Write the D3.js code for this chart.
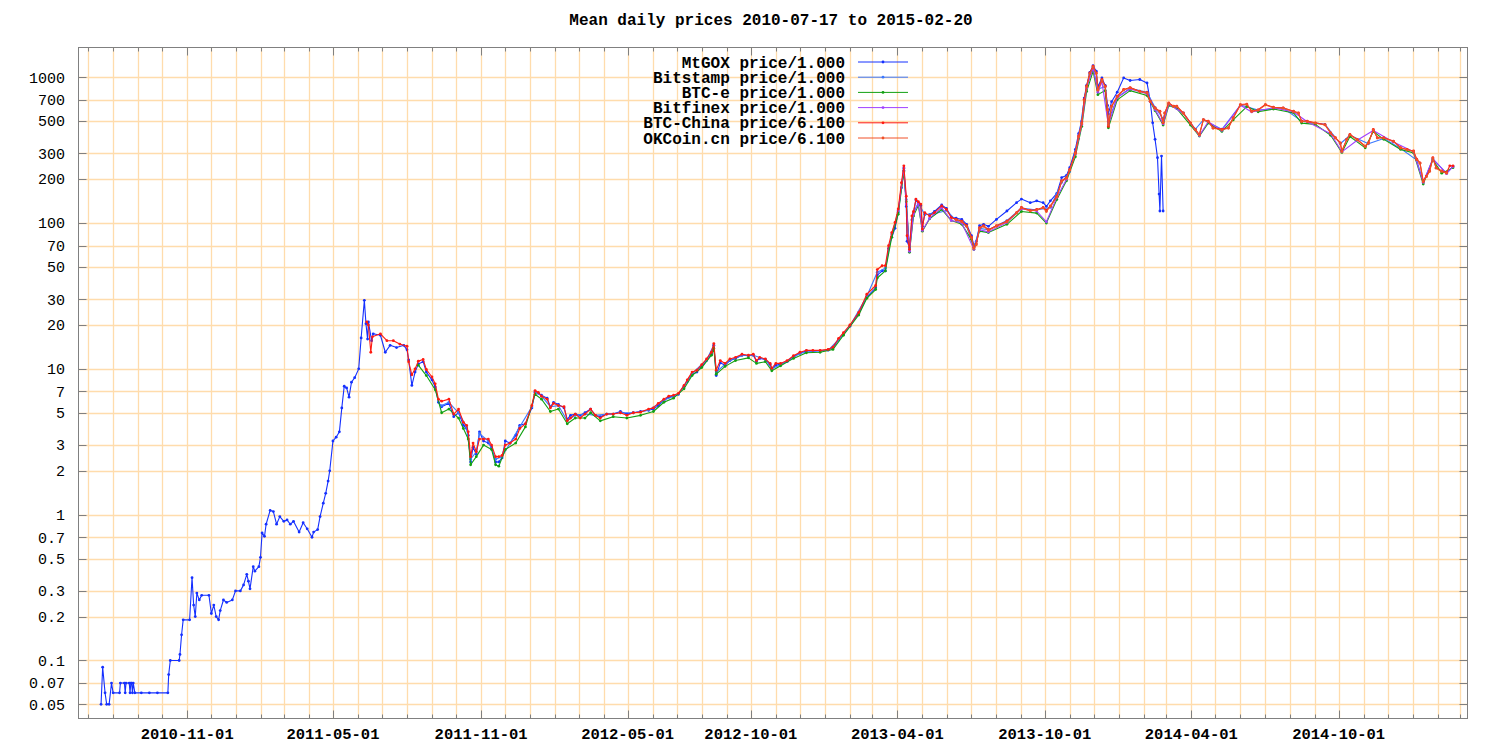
<!DOCTYPE html>
<html><head><meta charset="utf-8">
<script src="https://cdn.jsdelivr.net/npm/d3@7"></script>
<style>body{margin:0;background:#fff}svg{display:block}</style>
</head><body>
<svg id="c" width="1500" height="750"></svg>
<script>
const titleText = "Mean daily prices 2010-07-17 to 2015-02-20";
const seriesLabels = ["MtGOX price/1.000","Bitstamp price/1.000","BTC-e price/1.000","Bitfinex price/1.000","BTC-China price/6.100","OKCoin.cn price/6.100"];
const seriesColors = ["#1530ff","#3a78ff","#12a012","#a040ff","#ff1a10","#f05028"];
const yTickValues = [0.05,0.07,0.1,0.2,0.3,0.5,0.7,1,2,3,5,7,10,20,30,50,70,100,200,300,500,700,1000];
const yTickLabels = ["0.05","0.07","0.1","0.2","0.3","0.5","0.7","1","2","3","5","7","10","20","30","50","70","100","200","300","500","700","1000"];
const xTickLabels = ["2010-11-01","2011-05-01","2011-11-01","2012-05-01","2012-10-01","2013-04-01","2013-10-01","2014-04-01","2014-10-01"];

const mtgox = [["2010-07-17",0.05],["2010-07-19",0.09],["2010-07-22",0.06],["2010-07-24",0.05],["2010-07-27",0.05],["2010-07-30",0.07],["2010-08-01",0.06],["2010-08-09",0.06],["2010-08-10",0.07],["2010-08-15",0.07],["2010-08-16",0.06],["2010-08-17",0.07],["2010-08-21",0.07],["2010-08-22",0.06],["2010-08-23",0.07],["2010-08-24",0.07],["2010-08-25",0.06],["2010-08-26",0.07],["2010-08-28",0.06],["2010-09-05",0.06],["2010-09-15",0.06],["2010-09-25",0.06],["2010-10-08",0.06],["2010-10-09",0.08],["2010-10-11",0.1],["2010-10-22",0.1],["2010-10-23",0.11],["2010-10-25",0.15],["2010-10-27",0.19],["2010-11-04",0.19],["2010-11-07",0.37],["2010-11-09",0.24],["2010-11-11",0.2],["2010-11-13",0.29],["2010-11-16",0.26],["2010-11-19",0.28],["2010-11-28",0.28],["2010-12-01",0.21],["2010-12-04",0.24],["2010-12-07",0.2],["2010-12-10",0.19],["2010-12-12",0.22],["2010-12-16",0.26],["2010-12-20",0.25],["2010-12-27",0.26],["2010-12-31",0.3],["2011-01-06",0.3],["2011-01-10",0.33],["2011-01-14",0.39],["2011-01-16",0.35],["2011-01-18",0.31],["2011-01-22",0.44],["2011-01-24",0.41],["2011-01-29",0.44],["2011-01-31",0.51],["2011-02-02",0.75],["2011-02-05",0.71],["2011-02-07",0.86],["2011-02-12",1.07],["2011-02-16",1.05],["2011-02-20",0.86],["2011-02-24",0.97],["2011-03-01",0.9],["2011-03-05",0.92],["2011-03-09",0.86],["2011-03-13",0.9],["2011-03-20",0.76],["2011-03-25",0.88],["2011-03-30",0.8],["2011-04-05",0.7],["2011-04-07",0.76],["2011-04-12",0.79],["2011-04-15",0.97],["2011-04-19",1.2],["2011-04-22",1.4],["2011-04-25",1.7],["2011-04-27",2.0],["2011-05-01",3.2],["2011-05-05",3.4],["2011-05-09",3.7],["2011-05-12",5.4],["2011-05-15",7.6],["2011-05-18",7.4],["2011-05-21",6.4],["2011-05-24",8.1],["2011-05-28",8.7],["2011-06-02",10],["2011-06-05",16.3],["2011-06-09",29.5],["2011-06-11",20.4],["2011-06-13",16],["2011-06-14",21],["2011-06-18",15.6],["2011-06-20",17.4],["2011-06-29",17],["2011-07-05",13],["2011-07-11",14.5],["2011-07-19",14],["2011-07-28",14.5],["2011-08-01",13.5],["2011-08-03",11.5],["2011-08-07",7.7],["2011-08-11",9.5],["2011-08-15",10.8],["2011-08-21",11.2],["2011-08-25",9.5],["2011-09-01",8.4],["2011-09-05",7.5],["2011-09-09",5.9],["2011-09-13",5.5],["2011-09-22",5.8],["2011-09-28",4.7],["2011-10-04",5.0],["2011-10-10",4.1],["2011-10-14",3.9],["2011-10-16",3.5],["2011-10-19",2.3],["2011-10-22",2.9],["2011-10-26",2.6],["2011-10-30",3.7],["2011-11-04",3.2],["2011-11-10",3.1],["2011-11-14",2.9],["2011-11-19",2.3],["2011-11-23",2.3],["2011-11-27",2.45],["2011-12-01",3.2],["2011-12-07",3.1],["2011-12-14",3.5],["2011-12-19",4.1],["2011-12-26",4.2],["2012-01-03",5.4],["2012-01-07",6.9],["2012-01-11",6.8],["2012-01-15",6.6],["2012-01-22",6.3],["2012-01-26",5.5],["2012-01-30",5.9],["2012-02-05",5.7],["2012-02-12",5.4],["2012-02-16",4.5],["2012-02-20",4.8],["2012-02-26",4.9],["2012-03-03",4.8],["2012-03-09",5.0],["2012-03-16",5.3],["2012-03-22",4.8],["2012-03-28",4.7],["2012-04-05",4.9],["2012-04-13",4.9],["2012-04-22",5.1],["2012-04-30",4.9],["2012-05-08",5.0],["2012-05-17",5.1],["2012-05-27",5.2],["2012-06-02",5.3],["2012-06-08",5.6],["2012-06-15",6.1],["2012-06-21",6.4],["2012-06-27",6.5],["2012-07-03",6.7],["2012-07-10",7.6],["2012-07-14",8.2],["2012-07-20",9.2],["2012-07-26",9.5],["2012-08-01",10.4],["2012-08-07",11.4],["2012-08-13",12.6],["2012-08-16",14.5],["2012-08-19",9.0],["2012-08-24",11.0],["2012-08-30",10.6],["2012-09-05",11.4],["2012-09-12",11.8],["2012-09-20",12.4],["2012-09-28",12.3],["2012-10-04",12.4],["2012-10-08",11.3],["2012-10-12",11.8],["2012-10-19",11.6],["2012-10-25",10.7],["2012-10-27",10.0],["2012-11-01",10.6],["2012-11-07",10.8],["2012-11-15",11.2],["2012-11-23",12.2],["2012-12-01",12.8],["2012-12-09",13.3],["2012-12-17",13.2],["2012-12-26",13.3],["2013-01-05",13.5],["2013-01-11",14.0],["2013-01-18",15.8],["2013-01-24",17.3],["2013-02-01",19.6],["2013-02-12",24.0],["2013-02-22",31],["2013-03-05",36],["2013-03-07",44],["2013-03-13",47],["2013-03-17",47],["2013-03-21",67],["2013-03-25",80],["2013-03-29",92],["2013-04-02",118],["2013-04-06",175],["2013-04-09",230],["2013-04-12",130],["2013-04-13",75],["2013-04-16",68],["2013-04-19",105],["2013-04-21",118],["2013-04-24",144],["2013-04-27",136],["2013-04-30",132],["2013-05-02",95],["2013-05-05",115],["2013-05-11",114],["2013-05-17",120],["2013-05-26",133],["2013-06-01",126],["2013-06-07",110],["2013-06-13",108],["2013-06-20",106],["2013-06-26",98],["2013-07-02",82],["2013-07-05",70],["2013-07-08",75],["2013-07-12",96],["2013-07-17",98],["2013-07-23",95],["2013-08-02",106],["2013-08-15",121],["2013-08-27",138],["2013-09-02",146],["2013-09-13",138],["2013-09-21",142],["2013-09-29",138],["2013-10-03",130],["2013-10-08",142],["2013-10-16",160],["2013-10-22",205],["2013-10-28",212],["2013-11-01",240],["2013-11-08",320],["2013-11-12",410],["2013-11-16",500],["2013-11-19",720],["2013-11-22",880],["2013-11-26",1080],["2013-11-30",1200],["2013-12-04",1100],["2013-12-06",860],["2013-12-11",990],["2013-12-15",880],["2013-12-18",640],["2013-12-19",560],["2013-12-23",680],["2013-12-30",790],["2014-01-07",990],["2014-01-15",950],["2014-01-27",965],["2014-02-05",915],["2014-02-09",685],["2014-02-12",487],["2014-02-15",375],["2014-02-18",281],["2014-02-20",158],["2014-02-21",121],["2014-02-23",288],["2014-02-25",121]];

const btcchina = [["2011-06-12",21],["2011-06-14",20],["2011-06-17",13],["2011-06-19",16.6],["2011-06-29",17.4],["2011-07-07",15.6],["2011-07-15",15.6],["2011-07-23",14.8],["2011-08-01",14.3],["2011-08-03",11.2],["2011-08-07",9.1],["2011-08-11",10.0],["2011-08-15",11.3],["2011-08-21",11.6],["2011-08-25",9.9],["2011-09-01",8.8],["2011-09-05",7.9],["2011-09-09",6.2],["2011-09-13",6.0],["2011-09-22",6.2],["2011-09-28",4.9],["2011-10-04",5.3],["2011-10-10",4.3],["2011-10-14",4.1],["2011-10-16",3.7],["2011-10-19",2.5],["2011-10-22",3.1],["2011-10-26",2.7],["2011-10-30",3.3],["2011-11-04",3.3],["2011-11-10",3.3],["2011-11-14",3.0],["2011-11-19",2.5],["2011-11-23",2.5],["2011-11-27",2.55],["2011-12-01",3.0],["2011-12-07",3.1],["2011-12-14",3.3],["2011-12-19",3.9],["2011-12-26",4.2],["2012-01-03",5.6],["2012-01-07",7.1],["2012-01-11",6.9],["2012-01-15",6.5],["2012-01-22",6.2],["2012-01-26",5.4],["2012-01-30",5.8],["2012-02-05",5.6],["2012-02-12",5.5],["2012-02-16",4.4],["2012-02-20",4.6],["2012-02-26",4.9],["2012-03-03",4.6],["2012-03-09",4.9],["2012-03-16",5.3],["2012-03-22",4.8],["2012-03-28",4.6],["2012-04-05",4.9],["2012-04-13",4.9],["2012-04-22",5.0],["2012-04-30",4.8],["2012-05-08",5.0],["2012-05-17",5.05],["2012-05-27",5.3],["2012-06-02",5.4],["2012-06-08",5.8],["2012-06-15",6.2],["2012-06-21",6.5],["2012-06-27",6.6],["2012-07-03",6.8],["2012-07-10",7.7],["2012-07-14",8.4],["2012-07-20",9.5],["2012-07-26",9.8],["2012-08-01",10.7],["2012-08-07",11.7],["2012-08-13",13.0],["2012-08-16",14.9],["2012-08-19",9.8],["2012-08-24",11.4],["2012-08-30",10.9],["2012-09-05",11.7],["2012-09-12",12.0],["2012-09-20",12.6],["2012-09-28",12.4],["2012-10-04",12.6],["2012-10-08",11.4],["2012-10-12",12.0],["2012-10-19",11.7],["2012-10-25",10.9],["2012-10-27",10.1],["2012-11-01",10.9],["2012-11-07",10.9],["2012-11-15",11.4],["2012-11-23",12.3],["2012-12-01",13.0],["2012-12-09",13.4],["2012-12-17",13.4],["2012-12-26",13.4],["2013-01-05",13.6],["2013-01-11",14.1],["2013-01-18",16.2],["2013-01-24",17.7],["2013-02-01",20],["2013-02-12",24.4],["2013-02-22",32.5],["2013-03-05",37.3],["2013-03-07",48],["2013-03-13",51],["2013-03-17",51],["2013-03-21",70],["2013-03-25",86],["2013-03-29",101],["2013-04-02",125],["2013-04-06",189],["2013-04-09",247],["2013-04-12",153],["2013-04-13",82],["2013-04-16",66],["2013-04-19",112],["2013-04-21",120],["2013-04-24",146],["2013-04-27",140],["2013-04-30",135],["2013-05-02",91],["2013-05-05",118],["2013-05-11",112],["2013-05-17",118],["2013-05-26",131],["2013-06-01",124],["2013-06-07",109],["2013-06-13",106],["2013-06-20",103],["2013-06-26",96],["2013-07-02",80],["2013-07-05",68],["2013-07-08",72],["2013-07-12",93],["2013-07-17",96],["2013-07-23",90],["2013-08-02",96],["2013-08-15",103],["2013-08-27",118],["2013-09-02",128],["2013-09-13",122],["2013-09-21",124],["2013-09-29",128],["2013-10-03",122],["2013-10-08",131],["2013-10-16",153],["2013-10-22",195],["2013-10-28",205],["2013-11-01",233],["2013-11-08",304],["2013-11-12",395],["2013-11-16",487],["2013-11-19",704],["2013-11-22",868],["2013-11-26",1070],["2013-11-30",1190],["2013-12-04",1070],["2013-12-06",824],["2013-12-11",965],["2013-12-15",868],["2013-12-18",601],["2013-12-19",460],["2013-12-23",634],["2013-12-30",742],["2014-01-07",824],["2014-01-15",850],["2014-01-27",802],["2014-02-05",786],["2014-02-09",685],["2014-02-15",617],["2014-02-21",585],["2014-02-25",487],["2014-02-27",570],["2014-03-04",667],["2014-03-10",634],["2014-03-14",634],["2014-03-22",570],["2014-03-31",487],["2014-04-06",439],["2014-04-11",405],["2014-04-16",513],["2014-04-22",500],["2014-04-28",450],["2014-05-09",439],["2014-05-17",450],["2014-05-23",527],["2014-06-01",650],["2014-06-09",655],["2014-06-15",585],["2014-06-23",598],["2014-07-02",650],["2014-07-12",623],["2014-07-24",617],["2014-08-06",585],["2014-08-12",570],["2014-08-16",500],["2014-08-23",500],["2014-09-02",487],["2014-09-14",474],["2014-09-21",416],["2014-09-27",385],["2014-10-03",355],["2014-10-05",312],["2014-10-11",375],["2014-10-15",405],["2014-10-24",375],["2014-11-03",337],["2014-11-07",355],["2014-11-13",439],["2014-11-18",385],["2014-11-26",385],["2014-12-08",365],["2014-12-17",329],["2014-12-25",320],["2015-01-02",312],["2015-01-06",274],["2015-01-10",259],["2015-01-14",194],["2015-01-18",210],["2015-01-22",228],["2015-01-26",281],["2015-01-30",240],["2015-02-06",228],["2015-02-12",222],["2015-02-16",247],["2015-02-20",247]];

const btce = [["2011-08-15",10.6],["2011-08-25",9.0],["2011-09-05",7.2],["2011-09-13",5.0],["2011-09-22",5.3],["2011-10-04",4.6],["2011-10-10",3.9],["2011-10-16",3.3],["2011-10-19",2.2],["2011-10-26",2.5],["2011-11-04",3.0],["2011-11-14",2.8],["2011-11-19",2.2],["2011-11-23",2.15],["2011-12-01",2.8],["2011-12-14",3.1],["2011-12-26",4.0],["2012-01-07",6.7],["2012-01-15",6.2],["2012-01-26",5.1],["2012-02-05",5.3],["2012-02-16",4.2],["2012-02-26",4.6],["2012-03-09",4.6],["2012-03-16",5.0],["2012-03-28",4.4],["2012-04-13",4.7],["2012-04-30",4.6],["2012-05-17",4.8],["2012-06-02",5.1],["2012-06-15",5.9],["2012-06-27",6.3],["2012-07-10",7.3],["2012-07-20",9.0],["2012-08-01",10.2],["2012-08-13",12.4],["2012-08-16",13.8],["2012-08-19",9.2],["2012-08-30",10.4],["2012-09-12",11.4],["2012-09-28",11.9],["2012-10-08",10.9],["2012-10-19",11.2],["2012-10-27",9.7],["2012-11-07",10.5],["2012-11-23",11.8],["2012-12-09",12.9],["2012-12-26",13.0],["2013-01-11",13.6],["2013-01-24",17.0],["2013-02-12",23.4],["2013-02-22",30.5],["2013-03-05",35],["2013-03-07",42],["2013-03-17",47],["2013-03-25",80],["2013-04-02",115],["2013-04-09",225],["2013-04-12",140],["2013-04-16",63],["2013-04-21",112],["2013-04-27",132],["2013-05-02",88],["2013-05-11",107],["2013-05-26",124],["2013-06-07",104],["2013-06-20",98],["2013-07-02",77],["2013-07-05",66],["2013-07-12",88],["2013-07-23",86],["2013-08-15",98],["2013-09-02",120],["2013-09-21",117],["2013-10-03",100],["2013-10-16",145],["2013-10-28",195],["2013-11-08",285],["2013-11-16",460],["2013-11-22",800],["2013-11-30",1100],["2013-12-06",760],["2013-12-15",810],["2013-12-19",450],["2013-12-30",700],["2014-01-15",810],["2014-02-05",750],["2014-02-15",590],["2014-02-25",470],["2014-03-04",640],["2014-03-14",610],["2014-03-31",470],["2014-04-11",395],["2014-04-22",485],["2014-05-09",425],["2014-05-23",510],["2014-06-09",630],["2014-06-23",580],["2014-07-12",605],["2014-08-06",570],["2014-08-16",485],["2014-09-02",475],["2014-09-21",400],["2014-10-05",305],["2014-10-15",392],["2014-11-03",328],["2014-11-13",425],["2014-11-26",375],["2014-12-17",320],["2015-01-02",303],["2015-01-14",185],["2015-01-26",272],["2015-02-06",220],["2015-02-20",240]];

const bitstamp = [["2011-09-13",5.6],["2011-09-22",5.9],["2011-10-04",5.0],["2011-10-14",4.0],["2011-10-19",2.4],["2011-10-26",2.7],["2011-10-30",3.6],["2011-11-10",3.2],["2011-11-19",2.4],["2011-11-27",2.5],["2011-12-07",3.1],["2011-12-19",4.0],["2012-01-03",5.5],["2012-01-07",7.0],["2012-01-15",6.5],["2012-01-26",5.5],["2012-02-05",5.6],["2012-02-16",4.4],["2012-02-26",4.8],["2012-03-09",4.9],["2012-03-22",4.8],["2012-04-05",4.9],["2012-04-22",5.0],["2012-05-08",5.0],["2012-05-27",5.2],["2012-06-15",6.1],["2012-07-03",6.7],["2012-07-20",9.3],["2012-08-07",11.5],["2012-08-16",14.6],["2012-08-19",9.5],["2012-09-05",11.5],["2012-09-20",12.4],["2012-10-04",12.4],["2012-10-19",11.6],["2012-10-27",10.0],["2012-11-15",11.2],["2012-12-01",12.8],["2012-12-17",13.2],["2013-01-05",13.4],["2013-01-18",15.9],["2013-02-01",19.7],["2013-02-22",31.5],["2013-03-07",46],["2013-03-17",49],["2013-03-25",84],["2013-04-02",120],["2013-04-09",238],["2013-04-12",145],["2013-04-16",66],["2013-04-21",118],["2013-04-27",138],["2013-05-05",114],["2013-05-17",116],["2013-06-01",122],["2013-06-13",104],["2013-06-26",95],["2013-07-05",68],["2013-07-12",92],["2013-07-23",90],["2013-08-15",104],["2013-09-02",127],["2013-09-21",123],["2013-10-08",128],["2013-10-22",190],["2013-11-01",225],["2013-11-12",380],["2013-11-19",700],["2013-11-26",1050],["2013-11-30",1160],["2013-12-06",830],["2013-12-15",860],["2013-12-19",500],["2013-12-30",730],["2014-01-15",840],["2014-02-05",790],["2014-02-15",620],["2014-02-25",520],["2014-03-04",660],["2014-03-22",570],["2014-04-06",440],["2014-04-16",510],["2014-05-09",440],["2014-06-01",645],["2014-06-23",595],["2014-07-24",615],["2014-08-16",500],["2014-09-14",475],["2014-10-03",350],["2014-10-15",400],["2014-11-07",350],["2014-11-26",380],["2014-12-17",325],["2015-01-06",270],["2015-01-14",190],["2015-01-26",275],["2015-02-12",220],["2015-02-20",245]];

const bitfinex = [["2013-04-02",122],["2013-04-09",240],["2013-04-12",135],["2013-04-16",64],["2013-04-21",116],["2013-04-27",136],["2013-05-02",89],["2013-05-11",108],["2013-05-26",127],["2013-06-07",104],["2013-06-20",100],["2013-07-05",66],["2013-07-12",90],["2013-07-23",87],["2013-08-15",101],["2013-09-02",125],["2013-09-21",121],["2013-10-03",102],["2013-10-16",150],["2013-10-28",200],["2013-11-08",298],["2013-11-16",475],["2013-11-22",845],["2013-11-30",1150],["2013-12-06",790],["2013-12-11",930],["2013-12-19",470],["2013-12-30",725],["2014-01-15",830],["2014-02-05",770],["2014-02-15",600],["2014-02-25",480],["2014-03-04",655],["2014-03-22",565],["2014-04-11",398],["2014-04-22",495],["2014-05-09",432],["2014-06-01",642],["2014-06-15",578],["2014-07-12",618],["2014-08-06",578],["2014-08-23",495],["2014-09-21",410],["2014-10-05",308],["2014-10-24",370],["2014-11-13",432],["2014-12-08",360],["2015-01-02",308],["2015-01-14",190],["2015-01-26",276],["2015-02-12",218],["2015-02-20",244]];

const okcoin = [["2013-06-13",105],["2013-06-20",102],["2013-06-26",95],["2013-07-02",79],["2013-07-05",67],["2013-07-08",71],["2013-07-12",92],["2013-07-17",95],["2013-07-23",89],["2013-08-02",95],["2013-08-15",102],["2013-08-27",117],["2013-09-02",127],["2013-09-13",121],["2013-09-21",123],["2013-09-29",127],["2013-10-03",120],["2013-10-08",130],["2013-10-16",151],["2013-10-22",193],["2013-10-28",203],["2013-11-01",230],["2013-11-08",300],["2013-11-12",390],["2013-11-16",480],["2013-11-19",690],["2013-11-22",860],["2013-11-26",1060],["2013-11-30",1180],["2013-12-04",1060],["2013-12-06",815],["2013-12-11",955],["2013-12-15",860],["2013-12-18",595],["2013-12-19",470],["2013-12-23",628],["2013-12-30",735],["2014-01-07",818],["2014-01-15",845],["2014-01-27",798],["2014-02-05",780],["2014-02-09",680],["2014-02-15",612],["2014-02-21",580],["2014-02-25",490],["2014-02-27",565],["2014-03-04",662],["2014-03-10",630],["2014-03-14",630],["2014-03-22",566],["2014-03-31",484],["2014-04-06",436],["2014-04-11",402],["2014-04-16",510],["2014-04-22",497],["2014-04-28",447],["2014-05-09",436],["2014-05-17",447],["2014-05-23",524],["2014-06-01",646],["2014-06-09",651],["2014-06-15",582],["2014-06-23",595],["2014-07-02",646],["2014-07-12",620],["2014-07-24",614],["2014-08-06",582],["2014-08-12",567],["2014-08-16",497],["2014-08-23",497],["2014-09-02",484],["2014-09-14",471],["2014-09-21",414],["2014-09-27",383],["2014-10-03",353],["2014-10-05",310],["2014-10-11",373],["2014-10-15",403],["2014-10-24",373],["2014-11-03",335],["2014-11-07",353],["2014-11-13",436],["2014-11-18",383],["2014-11-26",383],["2014-12-08",363],["2014-12-17",327],["2014-12-25",318],["2015-01-02",310],["2015-01-06",272],["2015-01-10",257],["2015-01-14",192],["2015-01-18",208],["2015-01-22",226],["2015-01-26",279],["2015-01-30",238],["2015-02-06",226],["2015-02-12",220]];

const allSeries = [mtgox, bitstamp, btce, bitfinex, btcchina, okcoin];

const parse = d3.utcParse("%Y-%m-%d");
const svg = d3.select("#c");
const L = 78.5, R = 1467.5, T = 47.5, B = 718.5;
const x = d3.scaleUtc().domain([parse("2010-06-19"), parse("2015-03-10")]).range([L, R]);
const y = d3.scaleLog().domain([0.04, 1600]).range([B, T]);
const gridCol = "#ffdcac";
const monoFont = "'Liberation Mono', 'Courier New', monospace";

svg.append("rect").attr("width",1500).attr("height",750).attr("fill","#fff");

const months = d3.utcMonth.range(parse("2010-07-01"), parse("2015-03-02"));
const grid = svg.append("g");
grid.selectAll("line.v").data(months).join("line")
  .attr("x1", d => Math.round(x(d)) + 0.5).attr("x2", d => Math.round(x(d)) + 0.5)
  .attr("y1", T).attr("y2", B).attr("stroke", gridCol).attr("stroke-width", 1.3);
grid.selectAll("line.h").data(yTickValues).join("line")
  .attr("x1", L).attr("x2", R)
  .attr("y1", d => Math.round(y(d)) + 0.5).attr("y2", d => Math.round(y(d)) + 0.5)
  .attr("stroke", gridCol).attr("stroke-width", 1.3);

// border and ticks
const axisCol = "#808080";
const axes = svg.append("g").attr("stroke", axisCol).attr("stroke-width", 1);
const majorDates = xTickLabels.map(parse);
const majorSet = new Set(majorDates.map(d => +d));
months.forEach(d => {
  const len = majorSet.has(+d) ? 8 : 4;
  const xx = Math.round(x(d)) + 0.5;
  axes.append("line").attr("x1", xx).attr("x2", xx).attr("y1", B).attr("y2", B - len);
  axes.append("line").attr("x1", xx).attr("x2", xx).attr("y1", T).attr("y2", T + len);
});
yTickValues.forEach(v => {
  const yy = Math.round(y(v)) + 0.5;
  axes.append("line").attr("x1", L).attr("x2", L + 8).attr("y1", yy).attr("y2", yy);
  axes.append("line").attr("x1", R).attr("x2", R - 8).attr("y1", yy).attr("y2", yy);
});
axes.append("rect").attr("x", L).attr("y", T).attr("width", R - L).attr("height", B - T).attr("fill", "none");

// tick labels
svg.append("g").selectAll("text").data(yTickValues).join("text")
  .attr("x", 65).attr("y", d => y(d)).attr("dy", "0.35em")
  .attr("text-anchor", "end").attr("font-family", monoFont).attr("font-size", 15)
  .attr("fill", "#000").text((d, i) => yTickLabels[i]);
svg.append("g").selectAll("text").data(majorDates).join("text")
  .attr("x", d => x(d)).attr("y", 739)
  .attr("text-anchor", "middle").attr("font-family", monoFont).attr("font-size", 15.5).attr("font-weight", "bold")
  .attr("fill", "#000").text((d, i) => xTickLabels[i]);

// title
svg.append("text").attr("x", 771).attr("y", 25).attr("text-anchor", "middle")
  .attr("font-family", monoFont).attr("font-size", 16).attr("font-weight", "bold").text(titleText);

// series
svg.append("clipPath").attr("id", "clip").append("rect").attr("x", L).attr("y", T).attr("width", R - L).attr("height", B - T);
const plot = svg.append("g").attr("clip-path", "url(#clip)");
const line = d3.line().x(d => x(parse(d[0]))).y(d => y(d[1]));
allSeries.forEach((s, i) => {
  const g = plot.append("g");
  g.append("path").datum(s).attr("d", line).attr("fill", "none")
    .attr("stroke", seriesColors[i]).attr("stroke-width", 1.1).attr("stroke-linejoin", "round");
  g.selectAll("circle").data(s).join("circle")
    .attr("cx", d => x(parse(d[0]))).attr("cy", d => y(d[1])).attr("r", 1.4)
    .attr("fill", seriesColors[i]);
});

// legend
const leg = svg.append("g");
seriesLabels.forEach((lab, i) => {
  const yy = 62 + i * 15.2;
  leg.append("text").attr("x", 845).attr("y", yy).attr("dy", "0.35em").attr("text-anchor", "end")
    .attr("font-family", monoFont).attr("font-size", 16).attr("font-weight", "bold").text(lab);
  leg.append("line").attr("x1", 858).attr("x2", 908).attr("y1", yy).attr("y2", yy)
    .attr("stroke", seriesColors[i]).attr("stroke-width", 1);
  leg.append("circle").attr("cx", 883).attr("cy", yy).attr("r", 1.4).attr("fill", seriesColors[i]);
});
</script>
</body></html>
